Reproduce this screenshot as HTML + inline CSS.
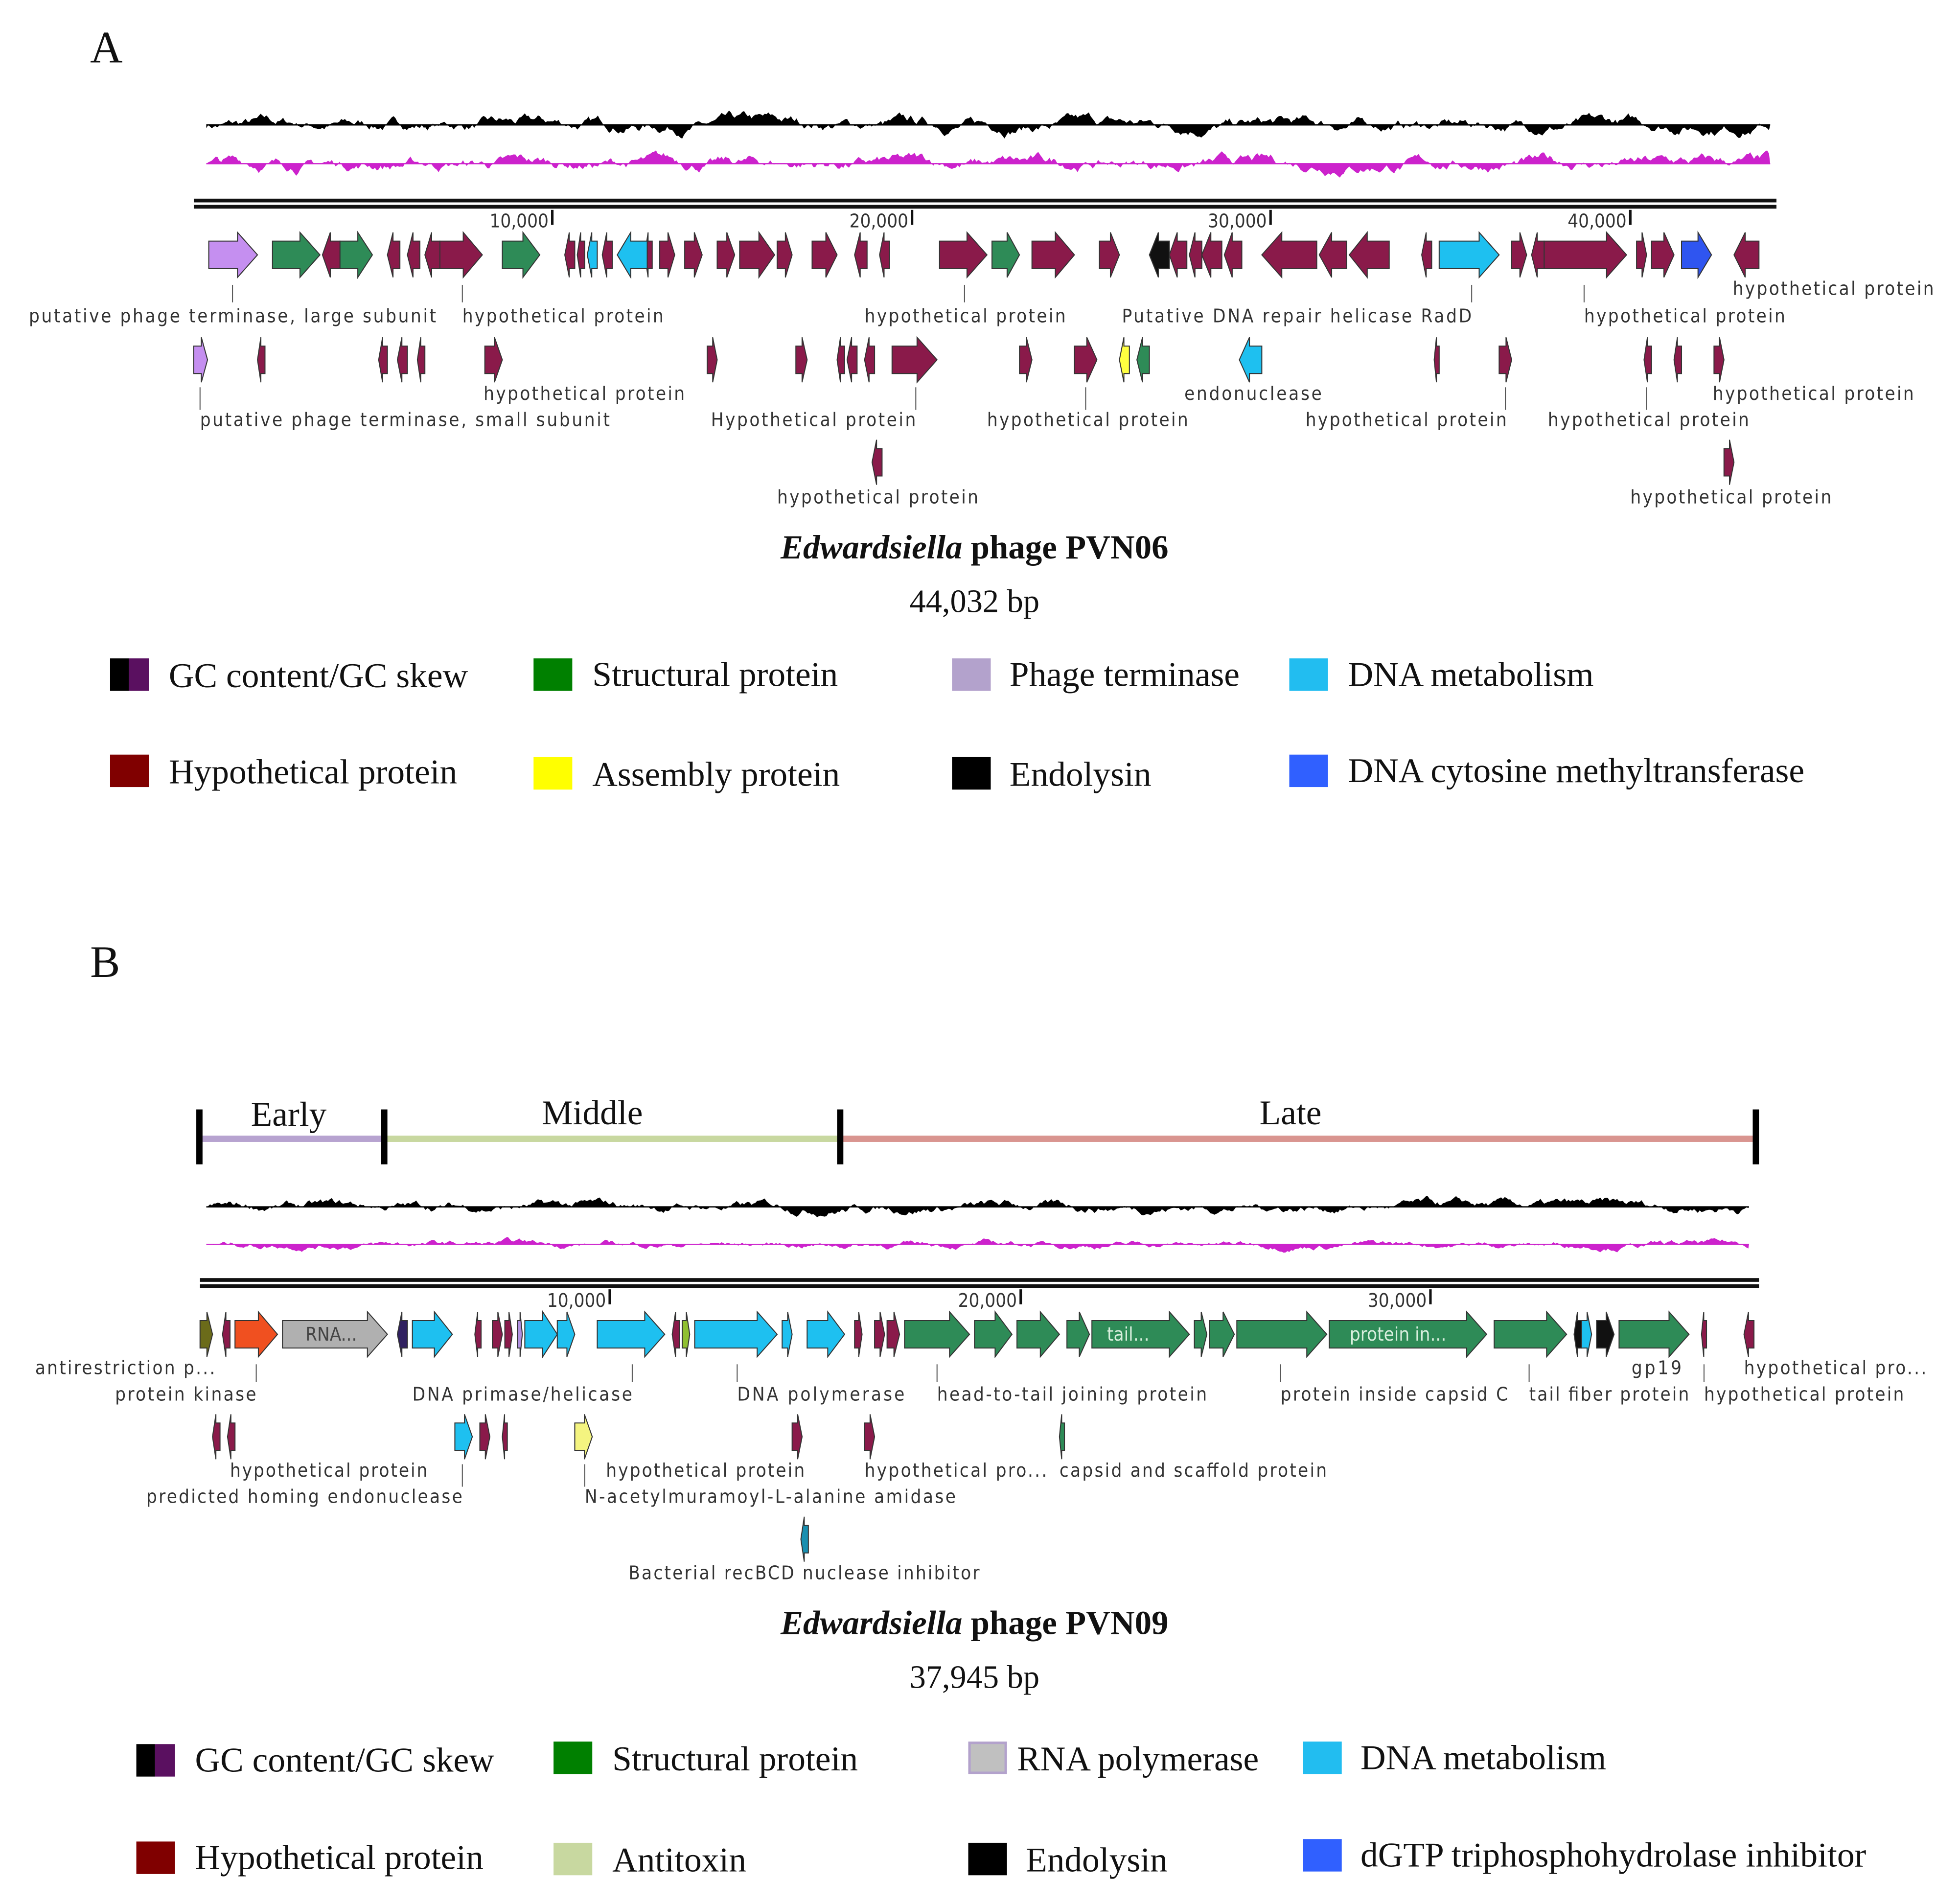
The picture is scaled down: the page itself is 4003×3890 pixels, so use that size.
<!DOCTYPE html>
<html><head><meta charset="utf-8"><style>
html,body{margin:0;padding:0;background:#fff;}
svg{display:block;}
.l{font-family:"DejaVu Sans Condensed","Liberation Sans",sans-serif;font-size:15px;fill:#333;}
.s{font-family:"Liberation Serif",serif;fill:#111;}
.ln{stroke:#555;stroke-width:0.8;}
</style></head><body>
<svg id="sv" width="4003" height="3890" viewBox="0 0 1568 1524" xmlns="http://www.w3.org/2000/svg">
<rect width="1568" height="1524" fill="#fff"/>
<g id="genes"></g>
<g id="gc"></g>
<!-- Panel A -->
<text class="s" x="72" y="50" font-size="36">A</text>
<rect x="155" y="159" width="1267" height="3" fill="#111"/>
<rect x="155" y="164" width="1267" height="3" fill="#111"/>
<g fill="#111">
<rect x="441" y="168" width="2" height="12"/><rect x="729" y="168" width="2" height="12"/>
<rect x="1016" y="168" width="2" height="12"/><rect x="1304" y="168" width="2" height="12"/>
</g>
<g class="l" text-anchor="end">
<text x="439" y="182">10,000</text><text x="727" y="182">20,000</text>
<text x="1014" y="182">30,000</text><text x="1302" y="182">40,000</text>
</g>
<g class="ln">
<line x1="186" y1="228" x2="186" y2="242"/><line x1="370" y1="228" x2="370" y2="242"/>
<line x1="772" y1="228" x2="772" y2="242"/><line x1="1178" y1="228" x2="1178" y2="242"/>
<line x1="1268" y1="228" x2="1268" y2="242"/>
<line x1="160" y1="310" x2="160" y2="328"/><line x1="733" y1="310" x2="733" y2="328"/>
<line x1="869" y1="310" x2="869" y2="328"/><line x1="1205" y1="310" x2="1205" y2="328"/>
<line x1="1318" y1="310" x2="1318" y2="328"/>
</g>
<g class="l">
<text x="23" y="258" textLength="326">putative phage terminase, large subunit</text>
<text x="370" y="258" textLength="161">hypothetical protein</text>
<text x="692" y="258" textLength="161">hypothetical protein</text>
<text x="898" y="258" textLength="280">Putative DNA repair helicase RadD</text>
<text x="1268" y="258" textLength="161">hypothetical protein</text>
<text x="1387" y="236" textLength="161">hypothetical protein</text>
<text x="387" y="320" textLength="161">hypothetical protein</text>
<text x="160" y="341" textLength="328">putative phage terminase, small subunit</text>
<text x="569" y="341" textLength="164">Hypothetical protein</text>
<text x="790" y="341" textLength="161">hypothetical protein</text>
<text x="948" y="320" textLength="110">endonuclease</text>
<text x="1045" y="341" textLength="161">hypothetical protein</text>
<text x="1239" y="341" textLength="161">hypothetical protein</text>
<text x="1371" y="320" textLength="161">hypothetical protein</text>
<text x="622" y="403" textLength="161">hypothetical protein</text>
<text x="1305" y="403" textLength="161">hypothetical protein</text>
</g>
<text class="s" x="780" y="447" font-size="27" font-weight="bold" text-anchor="middle"><tspan font-style="italic">Edwardsiella</tspan> phage PVN06</text>
<text class="s" x="780" y="490" font-size="26" text-anchor="middle">44,032 bp</text>
<g class="s" font-size="28">
<rect x="88" y="527" width="15" height="26" fill="#000"/><rect x="103" y="527" width="16" height="26" fill="#5a1060"/>
<text x="135" y="550">GC content/GC skew</text>
<rect x="427" y="527" width="31" height="26" fill="#008000"/><text x="474" y="549">Structural protein</text>
<rect x="762" y="527" width="31" height="26" fill="#b3a2cc"/><text x="808" y="549">Phage terminase</text>
<rect x="1032" y="527" width="31" height="26" fill="#22bdf0"/><text x="1079" y="549">DNA metabolism</text>
<rect x="88" y="604" width="31" height="26" fill="#800000"/><text x="135" y="627">Hypothetical protein</text>
<rect x="427" y="606" width="31" height="26" fill="#ffff00"/><text x="474" y="629">Assembly protein</text>
<rect x="762" y="606" width="31" height="26" fill="#000"/><text x="808" y="629">Endolysin</text>
<rect x="1032" y="604" width="31" height="26" fill="#3060ff"/><text x="1079" y="626">DNA cytosine methyltransferase</text>
</g>
<!-- Panel B -->
<text class="s" x="72" y="782" font-size="36">B</text>
<rect x="160" y="909" width="148" height="5" fill="#b7a3d0"/>
<rect x="308" y="909" width="365" height="5" fill="#c8d8a0"/>
<rect x="673" y="909" width="733" height="5" fill="#d99590"/>
<g fill="#000">
<rect x="157" y="888" width="5" height="44"/><rect x="305" y="888" width="5" height="44"/>
<rect x="670" y="888" width="5" height="44"/><rect x="1403" y="888" width="5" height="44"/>
</g>
<g class="s" font-size="28" text-anchor="middle">
<text x="231" y="901">Early</text><text x="474" y="900">Middle</text><text x="1033" y="900">Late</text>
</g>
<rect x="160" y="1023" width="1248" height="3" fill="#111"/>
<rect x="160" y="1028" width="1248" height="3" fill="#111"/>
<g fill="#111">
<rect x="487" y="1032" width="2" height="12"/><rect x="816" y="1032" width="2" height="12"/><rect x="1144" y="1032" width="2" height="12"/>
</g>
<g class="l" text-anchor="end">
<text x="485" y="1046">10,000</text><text x="814" y="1046">20,000</text><text x="1142" y="1046">30,000</text>
</g>
<g class="ln">
<line x1="205" y1="1092" x2="205" y2="1106"/><line x1="506" y1="1092" x2="506" y2="1106"/>
<line x1="590" y1="1092" x2="590" y2="1106"/><line x1="750" y1="1092" x2="750" y2="1106"/>
<line x1="1025" y1="1092" x2="1025" y2="1106"/><line x1="1224" y1="1092" x2="1224" y2="1106"/>
<line x1="1364" y1="1092" x2="1364" y2="1106"/>
<line x1="370" y1="1172" x2="370" y2="1190"/><line x1="468" y1="1172" x2="468" y2="1190"/>
</g>
<g class="l">
<text x="28" y="1100" textLength="144">antirestriction p...</text>
<text x="92" y="1121" textLength="113">protein kinase</text>
<text x="330" y="1121" textLength="176">DNA primase/helicase</text>
<text x="590" y="1121" textLength="134">DNA polymerase</text>
<text x="750" y="1121" textLength="216">head-to-tail joining protein</text>
<text x="1025" y="1121" textLength="182">protein inside capsid C</text>
<text x="1224" y="1121" textLength="128">tail fiber protein</text>
<text x="1306" y="1100" textLength="40">gp19</text>
<text x="1364" y="1121" textLength="160">hypothetical protein</text>
<text x="1396" y="1100" textLength="146">hypothetical pro...</text>
<text x="184" y="1182" textLength="158">hypothetical protein</text>
<text x="117" y="1203" textLength="253">predicted homing endonuclease</text>
<text x="485" y="1182" textLength="159">hypothetical protein</text>
<text x="468" y="1203" textLength="297">N-acetylmuramoyl-L-alanine amidase</text>
<text x="692" y="1182" textLength="146">hypothetical pro...</text>
<text x="848" y="1182" textLength="214">capsid and scaffold protein</text>
<text x="503" y="1264" textLength="281">Bacterial recBCD nuclease inhibitor</text>
</g>
<text class="s" x="780" y="1308" font-size="27" font-weight="bold" text-anchor="middle"><tspan font-style="italic">Edwardsiella</tspan> phage PVN09</text>
<text class="s" x="780" y="1351" font-size="26" text-anchor="middle">37,945 bp</text>
<g class="s" font-size="28">
<rect x="109" y="1396" width="15" height="26" fill="#000"/><rect x="124" y="1396" width="16" height="26" fill="#5a1060"/>
<text x="156" y="1418">GC content/GC skew</text>
<rect x="443" y="1394" width="31" height="26" fill="#008000"/><text x="490" y="1417">Structural protein</text>
<rect x="776" y="1395" width="29" height="24" fill="#c0c0c0" stroke="#b3a2cc" stroke-width="2"/><text x="814" y="1417">RNA polymerase</text>
<rect x="1043" y="1394" width="31" height="26" fill="#22bdf0"/><text x="1089" y="1416">DNA metabolism</text>
<rect x="109" y="1474" width="31" height="26" fill="#800000"/><text x="156" y="1496">Hypothetical protein</text>
<rect x="443" y="1475" width="31" height="26" fill="#c8d8a0"/><text x="490" y="1498">Antitoxin</text>
<rect x="775" y="1475" width="31" height="26" fill="#000"/><text x="821" y="1498">Endolysin</text>
<rect x="1043" y="1472" width="31" height="26" fill="#3060ff"/><text x="1089" y="1494">dGTP triphosphohydrolase inhibitor</text>
</g>
<text class="l" x="265" y="1073" text-anchor="middle" style="fill:#444">RNA...</text>
<text class="l" x="903" y="1073" text-anchor="middle" style="fill:#d8eedd">tail...</text>
<text class="l" x="1119" y="1073" text-anchor="middle" style="fill:#d8eedd">protein in...</text>
</svg>
<script>
(function(){
var NS="http://www.w3.org/2000/svg";
var G=document.getElementById("genes"),C=document.getElementById("gc");
var M="#8a1a4a",GR="#2e8b57",LV="#c58ff0",CY="#1ec0f0",BL="#2f55f0",K="#111";
function gene(x1,x2,y,d,c){
 var w=x2-x1,hl=Math.min(w*0.45,16),b=11,h=18,p;
 if(d>0){p=[[x1,y-b],[x2-hl,y-b],[x2-hl,y-h],[x2,y],[x2-hl,y+h],[x2-hl,y+b],[x1,y+b]];}
 else{p=[[x2,y-b],[x1+hl,y-b],[x1+hl,y-h],[x1,y],[x1+hl,y+h],[x1+hl,y+b],[x2,y+b]];}
 var e=document.createElementNS(NS,"polygon");
 e.setAttribute("points",p.map(function(q){return q.join(",");}).join(" "));
 e.setAttribute("fill",c);e.setAttribute("stroke","#333");e.setAttribute("stroke-width","0.8");
 G.insertBefore(e,G.firstChild);
}
var A1=[[167,206,1,LV],[218,256,1,GR],[258,272,-1,M],[272,298,1,GR],[310,320,-1,M],[326,336,-1,M],[340,352,-1,M],[352,386,1,M],[402,432,1,GR],[452,460,-1,M],[462,468,-1,M],[470,478,-1,CY],[482,490,-1,M],[494,518,-1,CY],[516,522,-1,M],[528,540,1,M],[548,562,1,M],[574,588,1,M],[592,620,1,M],[622,634,1,M],[650,670,1,M],[684,694,-1,M],[704,712,-1,M],[752,790,1,M],[794,816,1,GR],[826,860,1,M],[880,896,1,M],[920,936,-1,K],[936,950,-1,M],[952,962,-1,M],[962,978,-1,M],[980,994,-1,M],[1010,1054,-1,M],[1056,1078,-1,M],[1080,1112,-1,M],[1138,1146,-1,M],[1152,1200,1,CY],[1210,1222,1,M],[1226,1236,-1,M],[1236,1302,1,M],[1310,1318,1,M],[1322,1340,1,M],[1346,1370,1,BL],[1388,1408,-1,M]];
A1.forEach(function(g){gene(g[0],g[1],204,g[2],g[3]);});
var A2=[[155,166,1,LV],[206,212,-1,M],[303,310,-1,M],[318,326,-1,M],[334,340,-1,M],[388,402,1,M],[566,574,1,M],[637,646,1,M],[670,676,-1,M],[678,686,-1,M],[692,700,-1,M],[714,750,1,M],[816,826,1,M],[860,878,1,M],[896,904,-1,"#ffff40"],[910,920,-1,GR],[992,1010,-1,CY],[1148,1152,-1,M],[1200,1210,1,M],[1316,1322,-1,M],[1340,1346,-1,M],[1372,1380,1,M]];
A2.forEach(function(g){gene(g[0],g[1],288,g[2],g[3]);});
gene(698,706,370,-1,M);gene(1380,1388,370,1,M);
var B1=[[160,170,1,"#6b6b1a"],[178,184,-1,M],[188,222,1,"#f05020"],[226,310,1,"#b0b0b0"],[318,326,-1,"#302060"],[330,362,1,CY],[380,385,-1,M],[394,402,1,M],[404,410,1,M],[414,418,1,"#b090e0"],[420,446,1,CY],[446,460,1,CY],[478,532,1,CY],[538,544,-1,M],[546,552,1,"#90c030"],[556,622,1,CY],[626,634,1,CY],[646,676,1,CY],[684,690,1,M],[700,708,1,M],[710,720,1,M],[724,776,1,GR],[780,810,1,GR],[814,848,1,GR],[854,872,1,GR],[874,952,1,GR],[956,966,1,GR],[968,988,1,GR],[990,1062,1,GR],[1064,1190,1,GR],[1196,1254,1,GR],[1260,1266,-1,K],[1266,1274,1,CY],[1278,1292,1,K],[1296,1352,1,GR],[1362,1366,-1,M],[1396,1404,-1,M]];
B1.forEach(function(g){gene(g[0],g[1],1068,g[2],g[3]);});
var B2=[[170,176,-1,M],[182,188,-1,M],[364,378,1,CY],[384,392,1,M],[402,406,-1,M],[460,474,1,"#f4f480"],[634,642,1,M],[692,700,1,M],[848,852,-1,GR]];
B2.forEach(function(g){gene(g[0],g[1],1150,g[2],g[3]);});
gene(641,647,1232,-1,"#1a8fb0");
var seed=7;function r(){seed=(seed*16807)%2147483647;return seed/2147483647;}
function track(x1,x2,y,amp,col){
 var d="M"+x1+","+y,v=0;
 for(var x=x1;x<=x2;x+=1.5){v=v*0.93+(r()-0.5)*amp*0.4;d+=" L"+x.toFixed(1)+","+(y-v).toFixed(1);}
 d+=" L"+x2+","+y+" Z";
 var e=document.createElementNS(NS,"path");e.setAttribute("d",d);e.setAttribute("fill",col);C.appendChild(e);
 var l=document.createElementNS(NS,"line");l.setAttribute("x1",x1);l.setAttribute("x2",x2);l.setAttribute("y1",y);l.setAttribute("y2",y);l.setAttribute("stroke",col);l.setAttribute("stroke-width","1");C.appendChild(l);
}
track(165,1417,100,13,"#000");
track(165,1417,131,13,"#cc22cc");
track(165,1400,966,10,"#000");
track(165,1400,996,7,"#cc22cc");
})();
</script>
</body></html>
